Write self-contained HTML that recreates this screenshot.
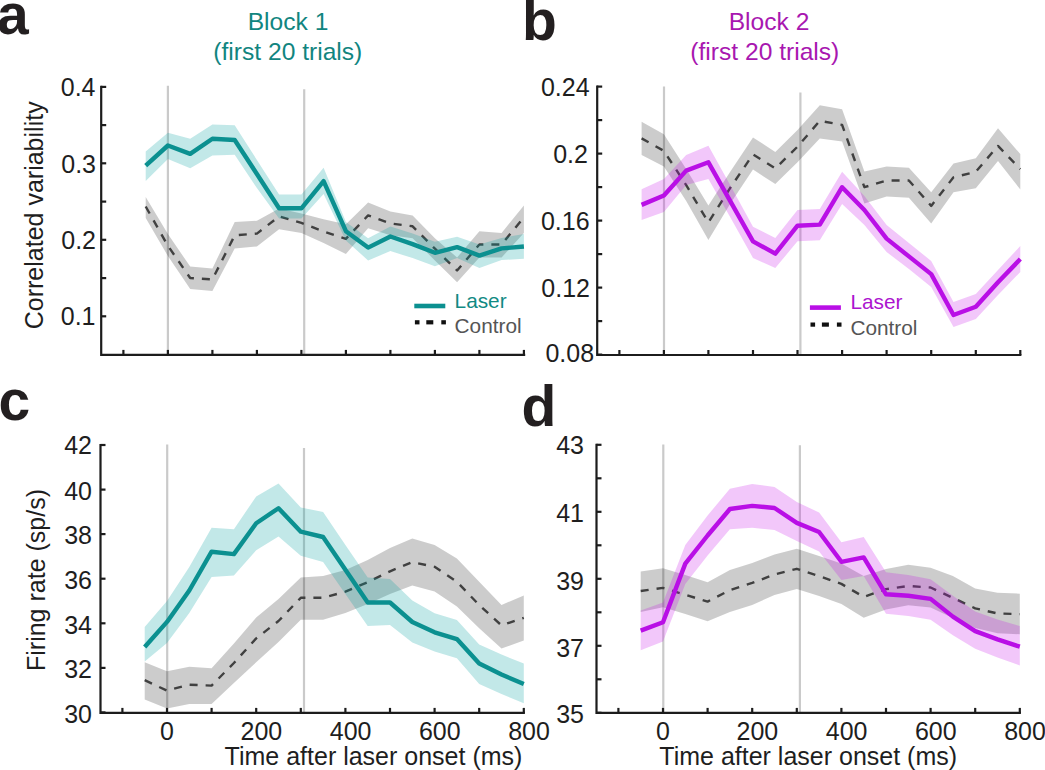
<!DOCTYPE html>
<html><head><meta charset="utf-8"><title>Figure</title>
<style>
html,body{margin:0;padding:0;background:#fff;}
svg{display:block;}
.t{font-family:"Liberation Sans", sans-serif;font-size:25px;fill:#1e1e1e;}
.tt{font-family:"Liberation Sans", sans-serif;font-size:24.6px;}
.lg{font-family:"Liberation Sans", sans-serif;font-size:20.8px;}
.pl{font-family:"Liberation Sans", sans-serif;font-size:57px;font-weight:bold;fill:#231f20;}
</style></head>
<body>
<svg width="1045" height="770" viewBox="0 0 1045 770">
<rect width="1045" height="770" fill="#fff"/>
<line x1="167.9" y1="85.8" x2="167.9" y2="353.9" stroke="#cacaca" stroke-width="2.2"/>
<line x1="304.2" y1="89.3" x2="304.2" y2="353.9" stroke="#cacaca" stroke-width="2.2"/>
<polygon points="145.7,197.1 167.9,234.0 190.2,266.6 212.4,268.6 234.7,222.1 256.9,220.7 279.1,208.6 301.4,213.6 323.6,219.3 345.9,224.2 368.1,202.6 390.4,211.4 412.6,215.4 434.9,238.2 457.1,257.5 479.4,231.3 501.6,232.9 523.9,205.6 523.9,232.9 501.6,257.5 479.4,257.5 457.1,282.2 434.9,260.4 412.6,238.2 390.4,235.3 368.1,228.3 345.9,254.0 323.6,242.9 301.4,232.9 279.1,229.3 256.9,246.4 234.7,248.6 212.4,291.0 190.2,289.0 167.9,256.0 145.7,217.9" fill="#000" fill-opacity="0.2"/>
<polyline points="145.7,206.5 167.9,245.8 190.2,278.0 212.4,279.4 234.7,235.4 256.9,233.6 279.1,216.4 301.4,222.9 323.6,231.4 345.9,238.8 368.1,215.4 390.4,223.4 412.6,226.3 434.9,248.7 457.1,270.5 479.4,244.5 501.6,244.5 523.9,217.3" fill="none" stroke="#404040" stroke-width="2.4" stroke-dasharray="8 8" stroke-linejoin="round"/>
<polygon points="145.7,151.4 167.9,132.8 190.2,138.7 212.4,124.4 234.7,125.2 256.9,160.0 279.1,194.5 301.4,194.5 323.6,167.7 345.9,221.9 368.1,238.2 390.4,226.5 412.6,233.6 434.9,241.7 457.1,236.8 479.4,244.5 501.6,238.0 523.9,234.0 523.9,258.8 501.6,260.0 479.4,268.0 457.1,258.0 434.9,266.3 412.6,258.1 390.4,251.1 368.1,260.4 345.9,240.6 323.6,193.9 301.4,218.5 279.1,218.5 256.9,188.0 234.7,154.7 212.4,155.6 190.2,168.2 167.9,159.0 145.7,180.9" fill="#059f9f" fill-opacity="0.245"/>
<polyline points="145.7,165.7 167.9,145.5 190.2,153.9 212.4,138.7 234.7,140.0 256.9,174.0 279.1,208.3 301.4,208.3 323.6,181.2 345.9,231.2 368.1,247.6 390.4,236.5 412.6,244.1 434.9,252.8 457.1,247.1 479.4,255.6 501.6,248.4 523.9,246.5" fill="none" stroke="#0b9090" stroke-width="4.4" stroke-linejoin="round"/>
<path d="M101.2,86.9 V354.9 H524.1" fill="none" stroke="#1c1c1c" stroke-width="2.2" stroke-linecap="square"/>
<line x1="101.2" y1="86.9" x2="106.2" y2="86.9" stroke="#1c1c1c" stroke-width="2.2"/>
<text x="95.5" y="95.8" text-anchor="end" class="t">0.4</text>
<line x1="101.2" y1="125.1" x2="106.2" y2="125.1" stroke="#1c1c1c" stroke-width="2.2"/>
<line x1="101.2" y1="163.3" x2="106.2" y2="163.3" stroke="#1c1c1c" stroke-width="2.2"/>
<text x="96.0" y="172.6" text-anchor="end" class="t">0.3</text>
<line x1="101.2" y1="201.6" x2="106.2" y2="201.6" stroke="#1c1c1c" stroke-width="2.2"/>
<line x1="101.2" y1="239.8" x2="106.2" y2="239.8" stroke="#1c1c1c" stroke-width="2.2"/>
<text x="96.0" y="249.0" text-anchor="end" class="t">0.2</text>
<line x1="101.2" y1="278.1" x2="106.2" y2="278.1" stroke="#1c1c1c" stroke-width="2.2"/>
<line x1="101.2" y1="316.3" x2="106.2" y2="316.3" stroke="#1c1c1c" stroke-width="2.2"/>
<text x="95.5" y="325.2" text-anchor="end" class="t">0.1</text>
<line x1="123.4" y1="354.9" x2="123.4" y2="349.9" stroke="#1c1c1c" stroke-width="2.2"/>
<line x1="167.9" y1="354.9" x2="167.9" y2="349.9" stroke="#1c1c1c" stroke-width="2.2"/>
<line x1="212.4" y1="354.9" x2="212.4" y2="349.9" stroke="#1c1c1c" stroke-width="2.2"/>
<line x1="256.9" y1="354.9" x2="256.9" y2="349.9" stroke="#1c1c1c" stroke-width="2.2"/>
<line x1="301.4" y1="354.9" x2="301.4" y2="349.9" stroke="#1c1c1c" stroke-width="2.2"/>
<line x1="345.9" y1="354.9" x2="345.9" y2="349.9" stroke="#1c1c1c" stroke-width="2.2"/>
<line x1="390.4" y1="354.9" x2="390.4" y2="349.9" stroke="#1c1c1c" stroke-width="2.2"/>
<line x1="434.9" y1="354.9" x2="434.9" y2="349.9" stroke="#1c1c1c" stroke-width="2.2"/>
<line x1="479.4" y1="354.9" x2="479.4" y2="349.9" stroke="#1c1c1c" stroke-width="2.2"/>
<line x1="523.9" y1="354.9" x2="523.9" y2="349.9" stroke="#1c1c1c" stroke-width="2.2"/>
<line x1="664.0" y1="86.4" x2="664.0" y2="354.0" stroke="#cacaca" stroke-width="2.2"/>
<line x1="800.4" y1="92.4" x2="800.4" y2="354.0" stroke="#cacaca" stroke-width="2.2"/>
<polygon points="641.6,121.8 663.9,134.3 686.2,169.0 708.4,205.5 730.7,171.0 753.0,137.4 775.3,151.9 797.5,130.1 819.8,105.2 842.1,109.3 864.4,171.5 886.6,166.4 908.9,167.7 931.2,192.3 953.5,163.6 975.8,158.2 998.0,128.2 1020.3,154.1 1020.3,189.5 998.0,160.9 975.8,188.2 953.5,192.3 931.2,223.6 908.9,197.7 886.6,196.4 864.4,203.5 842.1,141.5 819.8,138.4 797.5,162.3 775.3,184.1 753.0,169.6 730.7,203.0 708.4,240.0 686.2,201.0 663.9,166.5 641.6,155.0" fill="#000" fill-opacity="0.2"/>
<polyline points="641.6,138.4 663.9,150.9 686.2,185.1 708.4,222.5 730.7,187.2 753.0,154.4 775.3,168.5 797.5,146.7 819.8,120.8 842.1,124.9 864.4,187.2 886.6,180.5 908.9,180.5 931.2,205.9 953.5,177.3 975.8,171.8 998.0,145.9 1020.3,169.1" fill="none" stroke="#404040" stroke-width="2.4" stroke-dasharray="8 8" stroke-linejoin="round"/>
<polygon points="641.6,189.3 663.9,178.9 686.2,155.0 708.4,145.7 730.7,186.0 753.0,226.7 775.3,238.1 797.5,210.1 819.8,209.0 842.1,171.7 864.4,196.0 886.6,225.0 908.9,243.0 931.2,261.0 953.5,302.0 975.8,294.0 998.0,270.0 1020.3,246.0 1020.3,272.0 998.0,295.0 975.8,319.0 953.5,327.0 931.2,287.0 908.9,269.0 886.6,252.0 864.4,225.0 842.1,203.9 819.8,240.2 797.5,241.3 775.3,268.0 753.0,257.9 730.7,218.0 708.4,178.9 686.2,185.1 663.9,212.1 641.6,220.0" fill="#c60fe9" fill-opacity="0.23"/>
<polyline points="641.6,204.9 663.9,195.5 686.2,170.6 708.4,162.3 730.7,201.8 753.0,241.3 775.3,253.7 797.5,225.7 819.8,224.6 842.1,187.2 864.4,210.0 886.6,238.6 908.9,256.4 931.2,274.1 953.5,315.0 975.8,306.8 998.0,282.3 1020.3,259.1" fill="none" stroke="#b90fe6" stroke-width="4.4" stroke-linejoin="round"/>
<path d="M597.2,86.6 V355.0 H1020.3" fill="none" stroke="#1c1c1c" stroke-width="2.2" stroke-linecap="square"/>
<line x1="597.2" y1="86.6" x2="602.2" y2="86.6" stroke="#1c1c1c" stroke-width="2.2"/>
<text x="589.6" y="95.5" text-anchor="end" class="t">0.24</text>
<line x1="597.2" y1="120.1" x2="602.2" y2="120.1" stroke="#1c1c1c" stroke-width="2.2"/>
<line x1="597.2" y1="153.6" x2="602.2" y2="153.6" stroke="#1c1c1c" stroke-width="2.2"/>
<text x="587.9" y="162.8" text-anchor="end" class="t">0.2</text>
<line x1="597.2" y1="187.1" x2="602.2" y2="187.1" stroke="#1c1c1c" stroke-width="2.2"/>
<line x1="597.2" y1="220.6" x2="602.2" y2="220.6" stroke="#1c1c1c" stroke-width="2.2"/>
<text x="589.6" y="229.5" text-anchor="end" class="t">0.16</text>
<line x1="597.2" y1="254.1" x2="602.2" y2="254.1" stroke="#1c1c1c" stroke-width="2.2"/>
<line x1="597.2" y1="287.6" x2="602.2" y2="287.6" stroke="#1c1c1c" stroke-width="2.2"/>
<text x="590.0" y="297.3" text-anchor="end" class="t">0.12</text>
<line x1="597.2" y1="321.1" x2="602.2" y2="321.1" stroke="#1c1c1c" stroke-width="2.2"/>
<line x1="597.2" y1="354.6" x2="602.2" y2="354.6" stroke="#1c1c1c" stroke-width="2.2"/>
<text x="594.1" y="362.0" text-anchor="end" class="t">0.08</text>
<line x1="619.4" y1="355.0" x2="619.4" y2="350.0" stroke="#1c1c1c" stroke-width="2.2"/>
<line x1="663.9" y1="355.0" x2="663.9" y2="350.0" stroke="#1c1c1c" stroke-width="2.2"/>
<line x1="708.4" y1="355.0" x2="708.4" y2="350.0" stroke="#1c1c1c" stroke-width="2.2"/>
<line x1="753.0" y1="355.0" x2="753.0" y2="350.0" stroke="#1c1c1c" stroke-width="2.2"/>
<line x1="797.5" y1="355.0" x2="797.5" y2="350.0" stroke="#1c1c1c" stroke-width="2.2"/>
<line x1="842.1" y1="355.0" x2="842.1" y2="350.0" stroke="#1c1c1c" stroke-width="2.2"/>
<line x1="886.6" y1="355.0" x2="886.6" y2="350.0" stroke="#1c1c1c" stroke-width="2.2"/>
<line x1="931.2" y1="355.0" x2="931.2" y2="350.0" stroke="#1c1c1c" stroke-width="2.2"/>
<line x1="975.8" y1="355.0" x2="975.8" y2="350.0" stroke="#1c1c1c" stroke-width="2.2"/>
<line x1="1020.3" y1="355.0" x2="1020.3" y2="350.0" stroke="#1c1c1c" stroke-width="2.2"/>
<line x1="167.2" y1="444.6" x2="167.2" y2="711.9" stroke="#cacaca" stroke-width="2.2"/>
<line x1="304.0" y1="448.1" x2="304.0" y2="711.9" stroke="#cacaca" stroke-width="2.2"/>
<polygon points="144.7,662.3 167.0,671.2 189.3,666.7 211.6,668.2 233.9,643.5 256.2,617.4 278.5,599.0 300.8,577.6 323.1,576.0 345.4,570.0 367.7,560.0 390.0,548.0 412.3,538.4 434.6,545.0 456.9,558.6 479.2,581.8 501.5,605.0 523.8,595.4 523.8,640.4 501.5,648.6 479.2,628.2 456.9,606.4 434.6,591.4 412.3,585.6 390.0,594.0 367.7,604.0 345.4,613.0 323.1,619.7 300.8,619.7 278.5,642.0 256.2,662.3 233.9,683.0 211.6,704.0 189.3,704.1 167.0,708.6 144.7,699.6" fill="#000" fill-opacity="0.2"/>
<polyline points="144.7,680.2 167.0,690.6 189.3,684.7 211.6,685.6 233.9,663.0 256.2,638.4 278.5,621.0 300.8,597.8 323.1,597.8 345.4,591.6 367.7,582.2 390.0,571.3 412.3,562.1 434.6,566.8 456.9,581.8 479.2,605.0 501.5,625.4 523.8,617.8" fill="none" stroke="#404040" stroke-width="2.4" stroke-dasharray="8 8" stroke-linejoin="round"/>
<polygon points="144.7,627.0 167.0,601.0 189.3,567.0 211.6,527.8 233.9,529.3 256.2,496.4 278.5,483.5 300.8,507.4 323.1,512.1 345.4,545.0 367.7,577.6 390.0,579.0 412.3,600.5 434.6,613.2 456.9,620.0 479.2,644.5 501.5,654.5 523.8,663.6 523.8,703.2 501.5,694.0 479.2,684.0 456.9,658.2 434.6,651.4 412.3,642.4 390.0,625.0 367.7,625.9 345.4,594.0 323.1,562.0 300.8,555.7 278.5,536.5 256.2,550.2 233.9,575.6 211.6,577.0 189.3,613.0 167.0,643.0 144.7,661.5" fill="#059f9f" fill-opacity="0.245"/>
<polyline points="144.7,647.0 167.0,621.9 189.3,590.5 211.6,551.7 233.9,554.1 256.2,523.3 278.5,508.2 300.8,531.7 323.1,537.0 345.4,569.8 367.7,602.5 390.0,602.5 412.3,622.0 434.6,632.3 456.9,639.1 479.2,663.6 501.5,674.5 523.8,684.1" fill="none" stroke="#0b9090" stroke-width="4.4" stroke-linejoin="round"/>
<path d="M100.5,445.0 V712.9 H523.8" fill="none" stroke="#1c1c1c" stroke-width="2.2" stroke-linecap="square"/>
<line x1="100.5" y1="445.0" x2="105.5" y2="445.0" stroke="#1c1c1c" stroke-width="2.2"/>
<text x="92.0" y="453.9" text-anchor="end" class="t">42</text>
<line x1="100.5" y1="489.6" x2="105.5" y2="489.6" stroke="#1c1c1c" stroke-width="2.2"/>
<text x="92.0" y="499.8" text-anchor="end" class="t">40</text>
<line x1="100.5" y1="534.1" x2="105.5" y2="534.1" stroke="#1c1c1c" stroke-width="2.2"/>
<text x="92.0" y="544.3" text-anchor="end" class="t">38</text>
<line x1="100.5" y1="578.7" x2="105.5" y2="578.7" stroke="#1c1c1c" stroke-width="2.2"/>
<text x="92.0" y="588.9" text-anchor="end" class="t">36</text>
<line x1="100.5" y1="623.3" x2="105.5" y2="623.3" stroke="#1c1c1c" stroke-width="2.2"/>
<text x="92.0" y="633.5" text-anchor="end" class="t">34</text>
<line x1="100.5" y1="667.9" x2="105.5" y2="667.9" stroke="#1c1c1c" stroke-width="2.2"/>
<text x="92.0" y="678.1" text-anchor="end" class="t">32</text>
<line x1="100.5" y1="712.4" x2="105.5" y2="712.4" stroke="#1c1c1c" stroke-width="2.2"/>
<text x="92.0" y="722.5" text-anchor="end" class="t">30</text>
<line x1="122.4" y1="712.9" x2="122.4" y2="707.9" stroke="#1c1c1c" stroke-width="2.2"/>
<line x1="167.0" y1="712.9" x2="167.0" y2="707.9" stroke="#1c1c1c" stroke-width="2.2"/>
<text x="167.0" y="740.2" text-anchor="middle" class="t">0</text>
<line x1="211.6" y1="712.9" x2="211.6" y2="707.9" stroke="#1c1c1c" stroke-width="2.2"/>
<line x1="256.2" y1="712.9" x2="256.2" y2="707.9" stroke="#1c1c1c" stroke-width="2.2"/>
<text x="261.4" y="740.2" text-anchor="middle" class="t">200</text>
<line x1="300.8" y1="712.9" x2="300.8" y2="707.9" stroke="#1c1c1c" stroke-width="2.2"/>
<line x1="345.4" y1="712.9" x2="345.4" y2="707.9" stroke="#1c1c1c" stroke-width="2.2"/>
<text x="350.6" y="740.2" text-anchor="middle" class="t">400</text>
<line x1="390.0" y1="712.9" x2="390.0" y2="707.9" stroke="#1c1c1c" stroke-width="2.2"/>
<line x1="434.6" y1="712.9" x2="434.6" y2="707.9" stroke="#1c1c1c" stroke-width="2.2"/>
<text x="439.8" y="740.2" text-anchor="middle" class="t">600</text>
<line x1="479.2" y1="712.9" x2="479.2" y2="707.9" stroke="#1c1c1c" stroke-width="2.2"/>
<line x1="523.8" y1="712.9" x2="523.8" y2="707.9" stroke="#1c1c1c" stroke-width="2.2"/>
<text x="529.0" y="740.2" text-anchor="middle" class="t">800</text>
<line x1="663.3" y1="444.6" x2="663.3" y2="711.9" stroke="#cacaca" stroke-width="2.2"/>
<line x1="799.9" y1="445.2" x2="799.9" y2="711.9" stroke="#cacaca" stroke-width="2.2"/>
<polygon points="640.7,571.4 663.0,568.3 685.3,575.0 707.6,582.3 729.9,570.0 752.2,563.0 774.5,554.5 796.8,548.8 819.1,556.0 841.4,563.5 863.7,576.1 886.0,569.0 908.3,564.7 930.6,567.8 952.9,576.1 975.2,588.5 997.5,592.7 1019.8,593.7 1019.8,634.3 997.5,633.2 975.2,628.0 952.9,618.0 930.6,607.5 908.3,605.2 886.0,609.5 863.7,617.7 841.4,604.0 819.1,596.0 796.8,589.0 774.5,595.0 752.2,605.0 729.9,612.0 707.6,621.3 685.3,614.0 663.0,607.2 640.7,611.9" fill="#000" fill-opacity="0.2"/>
<polyline points="640.7,591.0 663.0,587.9 685.3,594.8 707.6,601.6 729.9,590.1 752.2,582.9 774.5,574.5 796.8,568.8 819.1,576.1 841.4,583.9 863.7,596.9 886.0,589.1 908.3,586.0 930.6,587.5 952.9,597.9 975.2,608.3 997.5,613.5 1019.8,614.1" fill="none" stroke="#404040" stroke-width="2.4" stroke-dasharray="8 8" stroke-linejoin="round"/>
<polygon points="640.7,610.4 663.0,602.6 685.3,544.9 707.6,515.5 729.9,488.7 752.2,484.0 774.5,487.0 796.8,502.0 819.1,512.5 841.4,542.3 863.7,537.1 886.0,572.2 908.3,575.0 930.6,579.2 952.9,595.8 975.2,611.4 997.5,619.5 1019.8,626.0 1019.8,665.4 997.5,657.5 975.2,648.8 952.9,635.3 930.6,619.7 908.3,616.0 886.0,613.8 863.7,576.1 841.4,580.0 819.1,551.4 796.8,541.0 774.5,530.0 752.2,527.7 729.9,529.3 707.6,555.5 685.3,583.9 663.0,641.6 640.7,650.3" fill="#c60fe9" fill-opacity="0.23"/>
<polyline points="640.7,630.6 663.0,622.2 685.3,563.6 707.6,535.5 729.9,509.0 752.2,505.9 774.5,508.0 796.8,522.9 819.1,532.0 841.4,561.8 863.7,557.4 886.0,594.3 908.3,595.8 930.6,598.9 952.9,616.6 975.2,631.1 997.5,639.4 1019.8,646.7" fill="none" stroke="#b90fe6" stroke-width="4.4" stroke-linejoin="round"/>
<path d="M596.5,444.8 V712.9 H1019.8" fill="none" stroke="#1c1c1c" stroke-width="2.2" stroke-linecap="square"/>
<line x1="596.5" y1="444.8" x2="601.5" y2="444.8" stroke="#1c1c1c" stroke-width="2.2"/>
<text x="584.0" y="454.3" text-anchor="end" class="t">43</text>
<line x1="596.5" y1="478.3" x2="601.5" y2="478.3" stroke="#1c1c1c" stroke-width="2.2"/>
<line x1="596.5" y1="511.8" x2="601.5" y2="511.8" stroke="#1c1c1c" stroke-width="2.2"/>
<text x="584.0" y="521.5" text-anchor="end" class="t">41</text>
<line x1="596.5" y1="545.3" x2="601.5" y2="545.3" stroke="#1c1c1c" stroke-width="2.2"/>
<line x1="596.5" y1="578.8" x2="601.5" y2="578.8" stroke="#1c1c1c" stroke-width="2.2"/>
<text x="584.0" y="589.5" text-anchor="end" class="t">39</text>
<line x1="596.5" y1="612.3" x2="601.5" y2="612.3" stroke="#1c1c1c" stroke-width="2.2"/>
<line x1="596.5" y1="645.8" x2="601.5" y2="645.8" stroke="#1c1c1c" stroke-width="2.2"/>
<text x="584.0" y="656.7" text-anchor="end" class="t">37</text>
<line x1="596.5" y1="679.3" x2="601.5" y2="679.3" stroke="#1c1c1c" stroke-width="2.2"/>
<line x1="596.5" y1="712.8" x2="601.5" y2="712.8" stroke="#1c1c1c" stroke-width="2.2"/>
<text x="584.0" y="723.1" text-anchor="end" class="t">35</text>
<line x1="618.4" y1="712.9" x2="618.4" y2="707.9" stroke="#1c1c1c" stroke-width="2.2"/>
<line x1="663.0" y1="712.9" x2="663.0" y2="707.9" stroke="#1c1c1c" stroke-width="2.2"/>
<text x="663.0" y="740.2" text-anchor="middle" class="t">0</text>
<line x1="707.6" y1="712.9" x2="707.6" y2="707.9" stroke="#1c1c1c" stroke-width="2.2"/>
<line x1="752.2" y1="712.9" x2="752.2" y2="707.9" stroke="#1c1c1c" stroke-width="2.2"/>
<text x="757.4" y="740.2" text-anchor="middle" class="t">200</text>
<line x1="796.8" y1="712.9" x2="796.8" y2="707.9" stroke="#1c1c1c" stroke-width="2.2"/>
<line x1="841.4" y1="712.9" x2="841.4" y2="707.9" stroke="#1c1c1c" stroke-width="2.2"/>
<text x="846.6" y="740.2" text-anchor="middle" class="t">400</text>
<line x1="886.0" y1="712.9" x2="886.0" y2="707.9" stroke="#1c1c1c" stroke-width="2.2"/>
<line x1="930.6" y1="712.9" x2="930.6" y2="707.9" stroke="#1c1c1c" stroke-width="2.2"/>
<text x="935.8" y="740.2" text-anchor="middle" class="t">600</text>
<line x1="975.2" y1="712.9" x2="975.2" y2="707.9" stroke="#1c1c1c" stroke-width="2.2"/>
<line x1="1019.8" y1="712.9" x2="1019.8" y2="707.9" stroke="#1c1c1c" stroke-width="2.2"/>
<text x="1025.0" y="740.2" text-anchor="middle" class="t">800</text>
<line x1="414.3" y1="306.0" x2="445.3" y2="306.0" stroke="#0b9090" stroke-width="4.6"/>
<text x="454.6" y="307.8" class="lg" style="fill:#118a84">Laser</text>
<rect x="414.9" y="320.2" width="4.6" height="4.2" fill="#111"/>
<rect x="426.3" y="320.2" width="7.0" height="4.2" fill="#111"/>
<rect x="441.3" y="320.2" width="4.6" height="4.2" fill="#111"/>
<text x="454.6" y="333.0" class="lg" style="fill:#555">Control</text>
<line x1="809.9" y1="307.6" x2="840.9" y2="307.6" stroke="#b90fe6" stroke-width="4.6"/>
<text x="850.4" y="309.4" class="lg" style="fill:#ac14cf">Laser</text>
<rect x="810.5" y="322.5" width="4.6" height="4.2" fill="#111"/>
<rect x="821.9" y="322.5" width="7.0" height="4.2" fill="#111"/>
<rect x="836.9" y="322.5" width="4.6" height="4.2" fill="#111"/>
<text x="850.4" y="335.3" class="lg" style="fill:#555">Control</text>
<text x="-3.0" y="34.4" class="pl">a</text>
<text x="522.0" y="40.3" class="pl">b</text>
<text x="-1.5" y="419.6" class="pl">c</text>
<text x="521.6" y="425.7" class="pl">d</text>
<text x="288.0" y="30.0" text-anchor="middle" class="tt" fill="#11857f">Block 1</text>
<text x="287.8" y="59.9" text-anchor="middle" class="tt" fill="#11857f">(first 20 trials)</text>
<text x="769.0" y="29.8" text-anchor="middle" class="tt" fill="#a817b0">Block 2</text>
<text x="764.8" y="59.6" text-anchor="middle" class="tt" fill="#a817b0">(first 20 trials)</text>
<text transform="translate(42.8,215.3) rotate(-90)" text-anchor="middle" class="t">Correlated variability</text>
<text transform="translate(44.8,580.0) rotate(-90)" text-anchor="middle" class="t">Firing rate (sp/s)</text>
<text x="373.5" y="765.2" text-anchor="middle" class="t">Time after laser onset (ms)</text>
<text x="808.2" y="765.2" text-anchor="middle" class="t">Time after laser onset (ms)</text>
</svg>
</body></html>
